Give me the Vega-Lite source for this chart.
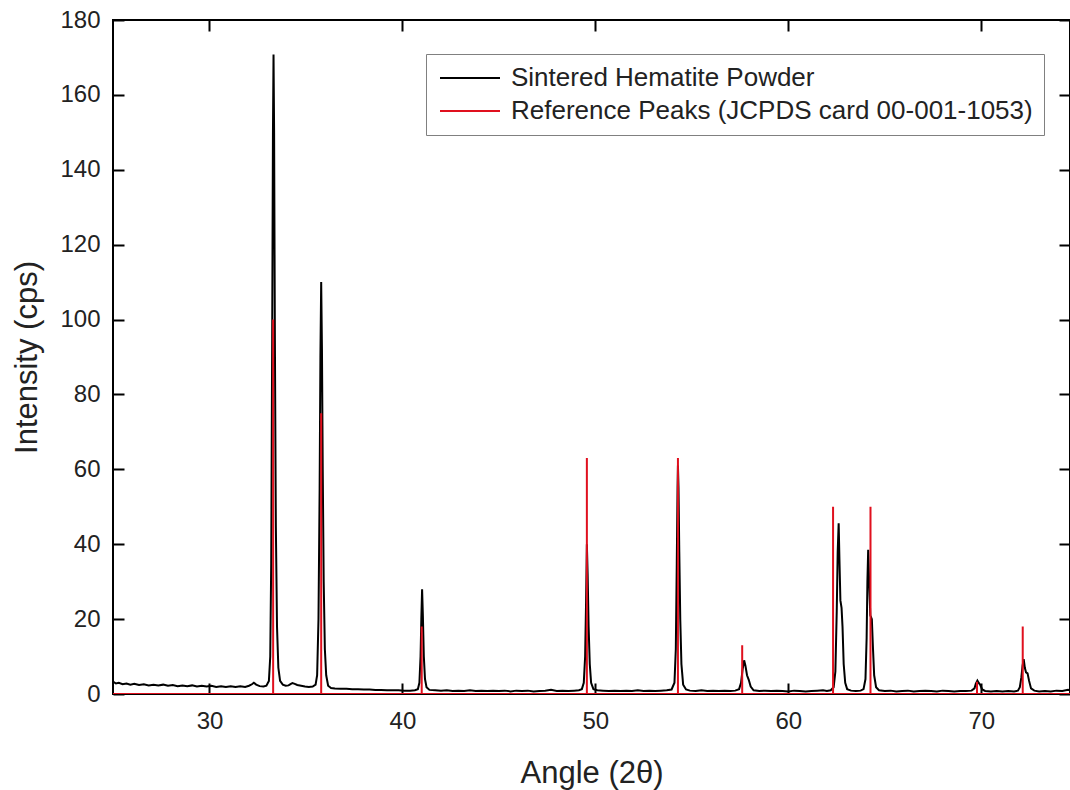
{
  "$schema": "https://vega.github.io/schema/vega-lite/v6.json",
  "width": 957,
  "height": 674,
  "autosize": {"type": "none"},
  "padding": {"left": 113, "top": 20, "right": 0, "bottom": 96},
  "background": "white",
  "config": {
    "view": {"stroke": "black", "strokeWidth": 2},
    "font": "Liberation Sans",
    "axis": {
      "domain": false, "ticks": false,
      "grid": true, "gridColor": "#000000", "gridWidth": 2, "gridOpacity": 1,
      "labelFont": "Liberation Sans", "labelFontSize": 24, "labelColor": "#222",
      "titleFont": "Liberation Sans", "titleFontSize": 31, "titleFontWeight": "normal", "titleColor": "#222",
      "labelOverlap": false, "labelFlush": false
    }
  },
  "datasets": {
    "raw": [
      {"x":25.0,"y":3.3},{"x":25.15,"y":2.8},{"x":25.3,"y":3.0},{"x":25.5,"y":2.6},{"x":25.7,"y":2.8},{"x":25.9,"y":2.5},{"x":26.1,"y":2.7},{"x":26.35,"y":2.4},{"x":26.6,"y":2.6},{"x":26.85,"y":2.3},{"x":27.1,"y":2.5},{"x":27.35,"y":2.3},{"x":27.6,"y":2.5},{"x":27.85,"y":2.2},{"x":28.1,"y":2.4},{"x":28.35,"y":2.1},{"x":28.6,"y":2.3},{"x":28.85,"y":2.1},{"x":29.1,"y":2.3},{"x":29.35,"y":2.0},{"x":29.6,"y":2.2},{"x":29.85,"y":2.0},{"x":30.1,"y":2.2},{"x":30.35,"y":1.9},{"x":30.6,"y":2.1},{"x":30.85,"y":1.9},{"x":31.1,"y":2.1},{"x":31.35,"y":1.9},{"x":31.6,"y":2.1},{"x":31.85,"y":1.9},{"x":32.05,"y":2.2},{"x":32.2,"y":2.6},{"x":32.3,"y":3.0},{"x":32.42,"y":2.5},{"x":32.6,"y":2.1},{"x":32.8,"y":2.0},{"x":32.95,"y":2.2},
      {"x":33.08,"y":3.5},{"x":33.15,"y":10},{"x":33.2,"y":35},{"x":33.25,"y":95},{"x":33.29,"y":150},{"x":33.32,"y":170.8},{"x":33.35,"y":150},{"x":33.39,"y":95},{"x":33.44,"y":45},{"x":33.5,"y":18},{"x":33.57,"y":7},{"x":33.66,"y":3.5},{"x":33.8,"y":2.5},{"x":33.95,"y":2.2},{"x":34.1,"y":2.3},{"x":34.22,"y":2.7},{"x":34.3,"y":2.9},{"x":34.42,"y":2.7},{"x":34.55,"y":2.4},{"x":34.75,"y":2.2},{"x":34.95,"y":2.0},{"x":35.15,"y":1.9},{"x":35.35,"y":2.0},{"x":35.5,"y":2.5},
      {"x":35.58,"y":5},{"x":35.65,"y":20},{"x":35.71,"y":55},{"x":35.75,"y":90},{"x":35.79,"y":110},{"x":35.83,"y":92},{"x":35.87,"y":60},{"x":35.92,"y":30},{"x":35.98,"y":12},{"x":36.05,"y":5},{"x":36.15,"y":2.2},{"x":36.3,"y":1.6},{"x":36.5,"y":1.5},{"x":36.8,"y":1.4},{"x":37.1,"y":1.4},{"x":37.4,"y":1.3},{"x":37.7,"y":1.3},{"x":38.0,"y":1.2},{"x":38.3,"y":1.2},{"x":38.6,"y":1.1},{"x":38.9,"y":1.1},{"x":39.2,"y":1.0},{"x":39.5,"y":1.0},{"x":39.8,"y":1.0},{"x":40.1,"y":0.9},{"x":40.4,"y":0.9},{"x":40.65,"y":1.0},{"x":40.8,"y":1.3},
      {"x":40.88,"y":3},{"x":40.94,"y":10},{"x":40.98,"y":20},{"x":41.02,"y":28},{"x":41.06,"y":21},{"x":41.11,"y":10},{"x":41.17,"y":4},{"x":41.25,"y":1.8},{"x":41.4,"y":1.1},{"x":41.7,"y":1.0},
      {"x":42.0,"y":0.9},{"x":42.3,"y":1.0},{"x":42.6,"y":0.8},{"x":42.9,"y":0.9},{"x":43.2,"y":0.8},{"x":43.5,"y":1.0},{"x":43.8,"y":0.8},{"x":44.1,"y":0.9},{"x":44.4,"y":0.8},{"x":44.7,"y":0.9},{"x":45.0,"y":0.8},{"x":45.3,"y":0.9},{"x":45.6,"y":0.7},{"x":45.9,"y":0.9},{"x":46.2,"y":0.8},{"x":46.5,"y":0.9},{"x":46.8,"y":0.7},{"x":47.1,"y":0.8},{"x":47.4,"y":0.9},{"x":47.7,"y":1.1},{"x":48.0,"y":0.8},{"x":48.3,"y":0.9},{"x":48.6,"y":0.8},{"x":48.9,"y":0.9},{"x":49.15,"y":1.0},{"x":49.3,"y":1.3},
      {"x":49.4,"y":3},{"x":49.47,"y":10},{"x":49.52,"y":25},{"x":49.56,"y":40},{"x":49.6,"y":32},{"x":49.65,"y":18},{"x":49.71,"y":8},{"x":49.78,"y":3},{"x":49.9,"y":1.3},{"x":50.1,"y":1.0},
      {"x":50.4,"y":0.9},{"x":50.7,"y":0.8},{"x":51.0,"y":0.9},{"x":51.3,"y":0.8},{"x":51.6,"y":0.9},{"x":51.9,"y":0.8},{"x":52.2,"y":1.0},{"x":52.5,"y":0.8},{"x":52.8,"y":0.9},{"x":53.1,"y":0.8},{"x":53.4,"y":0.9},{"x":53.7,"y":1.0},{"x":53.95,"y":1.2},{"x":54.1,"y":3},
      {"x":54.17,"y":12},{"x":54.22,"y":35},{"x":54.26,"y":55},{"x":54.28,"y":61},{"x":54.31,"y":55},{"x":54.35,"y":38},{"x":54.4,"y":20},{"x":54.46,"y":8},{"x":54.55,"y":2.5},{"x":54.7,"y":1.2},{"x":54.9,"y":0.9},
      {"x":55.2,"y":0.8},{"x":55.5,"y":1.0},{"x":55.8,"y":0.8},{"x":56.1,"y":0.9},{"x":56.4,"y":0.8},{"x":56.7,"y":0.9},{"x":57.0,"y":0.8},{"x":57.25,"y":0.9},{"x":57.45,"y":1.3},
      {"x":57.55,"y":3},{"x":57.63,"y":6.5},{"x":57.71,"y":9},{"x":57.78,"y":7.5},{"x":57.86,"y":5},{"x":57.95,"y":3.8},{"x":58.05,"y":2},{"x":58.2,"y":1.0},{"x":58.5,"y":0.8},
      {"x":58.8,"y":0.9},{"x":59.1,"y":0.8},{"x":59.4,"y":0.9},{"x":59.7,"y":0.8},{"x":60.0,"y":0.7},{"x":60.3,"y":0.9},{"x":60.6,"y":0.8},{"x":60.9,"y":0.7},{"x":61.2,"y":0.8},{"x":61.5,"y":0.9},{"x":61.8,"y":1.0},{"x":62.0,"y":0.8},{"x":62.2,"y":1.0},{"x":62.35,"y":1.8},
      {"x":62.44,"y":6},{"x":62.51,"y":22},{"x":62.56,"y":38},{"x":62.61,"y":45.6},{"x":62.65,"y":36},{"x":62.7,"y":25},{"x":62.76,"y":23},{"x":62.81,"y":18},{"x":62.87,"y":8},{"x":62.95,"y":3},{"x":63.05,"y":1.3},{"x":63.25,"y":0.9},{"x":63.5,"y":0.8},{"x":63.75,"y":0.9},{"x":63.9,"y":1.3},
      {"x":64.0,"y":4},{"x":64.06,"y":15},{"x":64.1,"y":30},{"x":64.14,"y":38.5},{"x":64.19,"y":30},{"x":64.25,"y":21},{"x":64.33,"y":20},{"x":64.39,"y":12},{"x":64.45,"y":5},{"x":64.55,"y":1.8},{"x":64.7,"y":1.0},
      {"x":65.0,"y":0.8},{"x":65.3,"y":0.9},{"x":65.6,"y":0.7},{"x":65.9,"y":0.8},{"x":66.2,"y":0.9},{"x":66.5,"y":0.7},{"x":66.8,"y":0.8},{"x":67.1,"y":0.9},{"x":67.4,"y":0.8},{"x":67.7,"y":0.7},{"x":68.0,"y":0.9},{"x":68.3,"y":0.8},{"x":68.6,"y":0.7},{"x":68.9,"y":0.8},{"x":69.2,"y":0.8},{"x":69.5,"y":0.9},{"x":69.65,"y":1.5},
      {"x":69.72,"y":2.8},{"x":69.8,"y":3.6},{"x":69.88,"y":2.9},{"x":69.95,"y":2.4},{"x":70.05,"y":1.2},{"x":70.2,"y":0.8},
      {"x":70.5,"y":0.7},{"x":70.8,"y":0.8},{"x":71.1,"y":0.7},{"x":71.4,"y":0.8},{"x":71.7,"y":0.7},{"x":71.9,"y":0.9},{"x":72.0,"y":1.8},
      {"x":72.08,"y":4.5},{"x":72.14,"y":7.5},{"x":72.2,"y":9.3},{"x":72.26,"y":7},{"x":72.32,"y":5.8},{"x":72.4,"y":5.5},{"x":72.48,"y":3.5},{"x":72.58,"y":1.5},{"x":72.75,"y":0.9},{"x":73.0,"y":0.7},{"x":73.3,"y":0.8},{"x":73.6,"y":0.7},{"x":73.9,"y":0.9},{"x":74.2,"y":0.8},{"x":74.5,"y":1.1},{"x":74.6,"y":1.0}
    ],
    "ref": [
      {"o":0,"x":25.0,"y":0},
      {"o":1,"x":33.3,"y":0},{"o":2,"x":33.3,"y":100},{"o":3,"x":33.3,"y":0},
      {"o":4,"x":35.79,"y":0},{"o":5,"x":35.79,"y":75},{"o":6,"x":35.79,"y":0},
      {"o":7,"x":41.0,"y":0},{"o":8,"x":41.0,"y":18},{"o":9,"x":41.0,"y":0},
      {"o":10,"x":49.56,"y":0},{"o":11,"x":49.56,"y":63},{"o":12,"x":49.56,"y":0},
      {"o":13,"x":54.28,"y":0},{"o":14,"x":54.28,"y":63},{"o":15,"x":54.28,"y":0},
      {"o":16,"x":57.61,"y":0},{"o":17,"x":57.61,"y":13},{"o":18,"x":57.61,"y":0},
      {"o":19,"x":62.32,"y":0},{"o":20,"x":62.32,"y":50},{"o":21,"x":62.32,"y":0},
      {"o":22,"x":64.26,"y":0},{"o":23,"x":64.26,"y":50},{"o":24,"x":64.26,"y":0},
      {"o":25,"x":69.78,"y":0},{"o":26,"x":69.78,"y":3.3},{"o":27,"x":69.78,"y":0},
      {"o":28,"x":72.15,"y":0},{"o":29,"x":72.15,"y":18},{"o":30,"x":72.15,"y":0},
      {"o":31,"x":74.6,"y":0}
    ]
  },
  "layer": [
    {
      "data": {"name": "raw"},
      "mark": {"type": "line", "strokeWidth": 2, "clip": true},
      "encoding": {
        "x": {
          "field": "x", "type": "quantitative",
          "scale": {"domain": [25, 74.6], "nice": false, "zero": false},
          "axis": {
            "orient": "bottom", "title": "Angle (2θ)", "titlePadding": 25,
            "values": [30,40,50,60,70], "gridDash": [11, 652], "labelPadding": 15
          }
        },
        "y": {
          "field": "y", "type": "quantitative",
          "scale": {"domain": [0, 180], "nice": false},
          "axis": {
            "orient": "left", "title": "Intensity (cps)", "titlePadding": 16,
            "values": [0,20,40,60,80,100,120,140,160,180], "gridDash": [11, 935], "labelPadding": 13
          }
        },
        "color": {
          "datum": "Sintered Hematite Powder", "type": "nominal",
          "scale": {"domain": ["Sintered Hematite Powder", "Reference Peaks (JCPDS card 00-001-1053)"], "range": ["#000000", "#e0101e"]},
          "legend": {
            "orient": "none", "legendX": 313, "legendY": 34, "title": null,
            "symbolType": "M-1,0H5", "symbolSize": 400, "symbolStrokeWidth": 2,
            "labelFont": "Liberation Sans", "labelFontSize": 26, "labelColor": "#222", "labelOffset": 48, "labelLimit": 0,
            "padding": 11, "rowPadding": 7, "strokeColor": "#808080", "fillColor": "white"
          }
        }
      }
    },
    {
      "data": {"name": "ref"},
      "mark": {"type": "line", "strokeWidth": 2, "clip": true},
      "encoding": {
        "x": {
          "field": "x", "type": "quantitative",
          "scale": {"domain": [25, 74.6], "nice": false, "zero": false},
          "axis": {"orient": "bottom", "title": null, "labels": false, "values": [26,28,32,34,36,38,42,44,46,48,52,54,56,58,62,64,66,68,72,74], "gridDash": [6, 662]}
        },
        "y": {
          "field": "y", "type": "quantitative",
          "scale": {"domain": [0, 180], "nice": false},
          "axis": {"orient": "left", "title": null, "labels": false, "values": [4,8,12,16,24,28,32,36,44,48,52,56,64,68,72,76,84,88,92,96,104,108,112,116,124,128,132,136,144,148,152,156,164,168,172,176], "gridDash": [6, 945]}
        },
        "order": {"field": "o", "type": "quantitative"},
        "color": {"datum": "Reference Peaks (JCPDS card 00-001-1053)", "type": "nominal"}
      }
    },
    {
      "data": {"name": "ref"},
      "mark": {"type": "point", "opacity": 0},
      "encoding": {
        "x": {
          "field": "x", "type": "quantitative",
          "scale": {"domain": [25, 74.6], "nice": false, "zero": false},
          "axis": {"orient": "bottom", "title": null, "labels": false, "values": [30,40,50,60,70], "gridDash": [11, 652]}
        },
        "y": {
          "field": "y", "type": "quantitative",
          "scale": {"domain": [0, 180], "nice": false, "reverse": true},
          "axis": null
        }
      }
    },
    {
      "data": {"name": "ref"},
      "mark": {"type": "point", "opacity": 0},
      "encoding": {
        "x": {
          "field": "x", "type": "quantitative",
          "scale": {"domain": [25, 74.6], "nice": false, "zero": false},
          "axis": {"orient": "bottom", "title": null, "labels": false, "values": [26,28,32,34,36,38,42,44,46,48,52,54,56,58,62,64,66,68,72,74], "gridDash": [6, 662]}
        },
        "y": {
          "field": "y", "type": "quantitative",
          "scale": {"domain": [0, 180], "nice": false, "reverse": true},
          "axis": null
        }
      }
    },
    {
      "data": {"name": "ref"},
      "mark": {"type": "point", "opacity": 0},
      "encoding": {
        "x": {
          "field": "x", "type": "quantitative",
          "scale": {"domain": [25, 74.6], "nice": false, "zero": false, "reverse": true},
          "axis": null
        },
        "y": {
          "field": "y", "type": "quantitative",
          "scale": {"domain": [0, 180], "nice": false},
          "axis": {"orient": "left", "title": null, "labels": false, "values": [0,20,40,60,80,100,120,140,160,180], "gridDash": [11, 935]}
        }
      }
    },
    {
      "data": {"name": "ref"},
      "mark": {"type": "point", "opacity": 0},
      "encoding": {
        "x": {
          "field": "x", "type": "quantitative",
          "scale": {"domain": [25, 74.6], "nice": false, "zero": false, "reverse": true},
          "axis": null
        },
        "y": {
          "field": "y", "type": "quantitative",
          "scale": {"domain": [0, 180], "nice": false},
          "axis": {"orient": "left", "title": null, "labels": false, "values": [4,8,12,16,24,28,32,36,44,48,52,56,64,68,72,76,84,88,92,96,104,108,112,116,124,128,132,136,144,148,152,156,164,168,172,176], "gridDash": [6, 945]}
        }
      }
    }
  ],
  "resolve": {
    "scale": {"x": "independent", "y": "independent"},
    "axis": {"x": "independent", "y": "independent"}
  }
}
